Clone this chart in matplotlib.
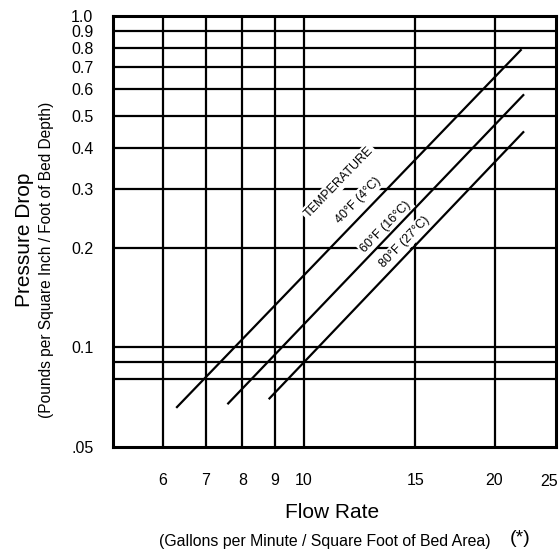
import numpy as np
import matplotlib.pyplot as plt
from matplotlib.ticker import FixedLocator, FixedFormatter, NullLocator
from matplotlib.transforms import ScaledTranslation

plt.rcParams['font.family'] = ['Liberation Sans', 'DejaVu Sans']

# grid / tick values
x_grid = [6, 7, 8, 9, 10, 15, 20]
x_ticks = [6, 7, 8, 9, 10, 15, 20, 25]
x_labels = ['6', '7', '8', '9', '10', '15', '20', '25']
y_grid = [0.08, 0.09, 0.1, 0.2, 0.3, 0.4, 0.5, 0.6, 0.7, 0.8, 0.9]
y_ticks = [0.05, 0.1, 0.2, 0.3, 0.4, 0.5, 0.6, 0.7, 0.8, 0.9, 1.0]
y_labels = ['.05', '0.1', '0.2', '0.3', '0.4', '0.5', '0.6', '0.7', '0.8', '0.9', '1.0']

# temperature curves (flow rate, pressure drop) end points
flow_40 = [6.31, 22.0]
drop_40 = [0.066, 0.789]
flow_60 = [7.60, 22.2]
drop_60 = [0.0677, 0.577]
flow_80 = [8.83, 22.2]
drop_80 = [0.0701, 0.446]

# curve labels
label_text = ['TEMPERATURE', '40°F (4°C)', '60°F (16°C)', '80°F (27°C)']
label_x = [11.36, 12.18, 13.49, 14.45]
label_y = [0.315, 0.278, 0.231, 0.208]

fig = plt.figure(figsize=(5.59, 5.51), dpi=100)
ax = fig.add_axes([0.202, 0.1887, 0.7926, 0.7823])
ax.set_xscale('log')
ax.set_yscale('log')
ax.set_xlim(5, 25)
ax.set_ylim(0.05, 1.0)

for xv in x_grid:
    ax.axvline(xv, color='black', lw=1.6, zorder=1)
for yv in y_grid:
    ax.axhline(yv, color='black', lw=1.6, zorder=1)

for f, d in [(flow_40, drop_40), (flow_60, drop_60), (flow_80, drop_80)]:
    ax.plot(f, d, color='black', lw=1.6, zorder=3)

box = dict(facecolor='white', edgecolor='none', pad=1.5)
for t, lx, ly in zip(label_text, label_x, label_y):
    ax.text(lx, ly, t, rotation=46, fontsize=9, ha='center', va='center',
            bbox=box, zorder=2)

ax.xaxis.set_major_locator(FixedLocator(x_ticks))
ax.xaxis.set_major_formatter(FixedFormatter(x_labels))
ax.xaxis.set_minor_locator(NullLocator())
ax.yaxis.set_major_locator(FixedLocator(y_ticks))
ax.yaxis.set_major_formatter(FixedFormatter(y_labels))
ax.yaxis.set_minor_locator(NullLocator())
ax.tick_params(axis='both', length=0, labelsize=11.5)
ax.tick_params(axis='x', pad=19)
ax.tick_params(axis='y', pad=14)

# keep the last x label inside the figure
fig.canvas.draw()
last = ax.get_xticklabels()[-1]
last.set_transform(last.get_transform() + ScaledTranslation(-7 / 100, -1 / 100, fig.dpi_scale_trans))

for s in ax.spines.values():
    s.set_linewidth(2.2)

fig.text(0.043, 0.564, 'Pressure Drop', rotation=90, fontsize=15, ha='center', va='center')
fig.text(0.083, 0.528, '(Pounds per Square Inch / Foot of Bed Depth)', rotation=90,
         fontsize=11.2, ha='center', va='center')
fig.text(0.594, 0.069, 'Flow Rate', fontsize=15, ha='center', va='center')
fig.text(0.581, 0.017, '(Gallons per Minute / Square Foot of Bed Area)', fontsize=11.4,
         ha='center', va='center')
fig.text(0.930, 0.022, '(*)', fontsize=14, ha='center', va='center')

fig.savefig('out.png', dpi=100)
